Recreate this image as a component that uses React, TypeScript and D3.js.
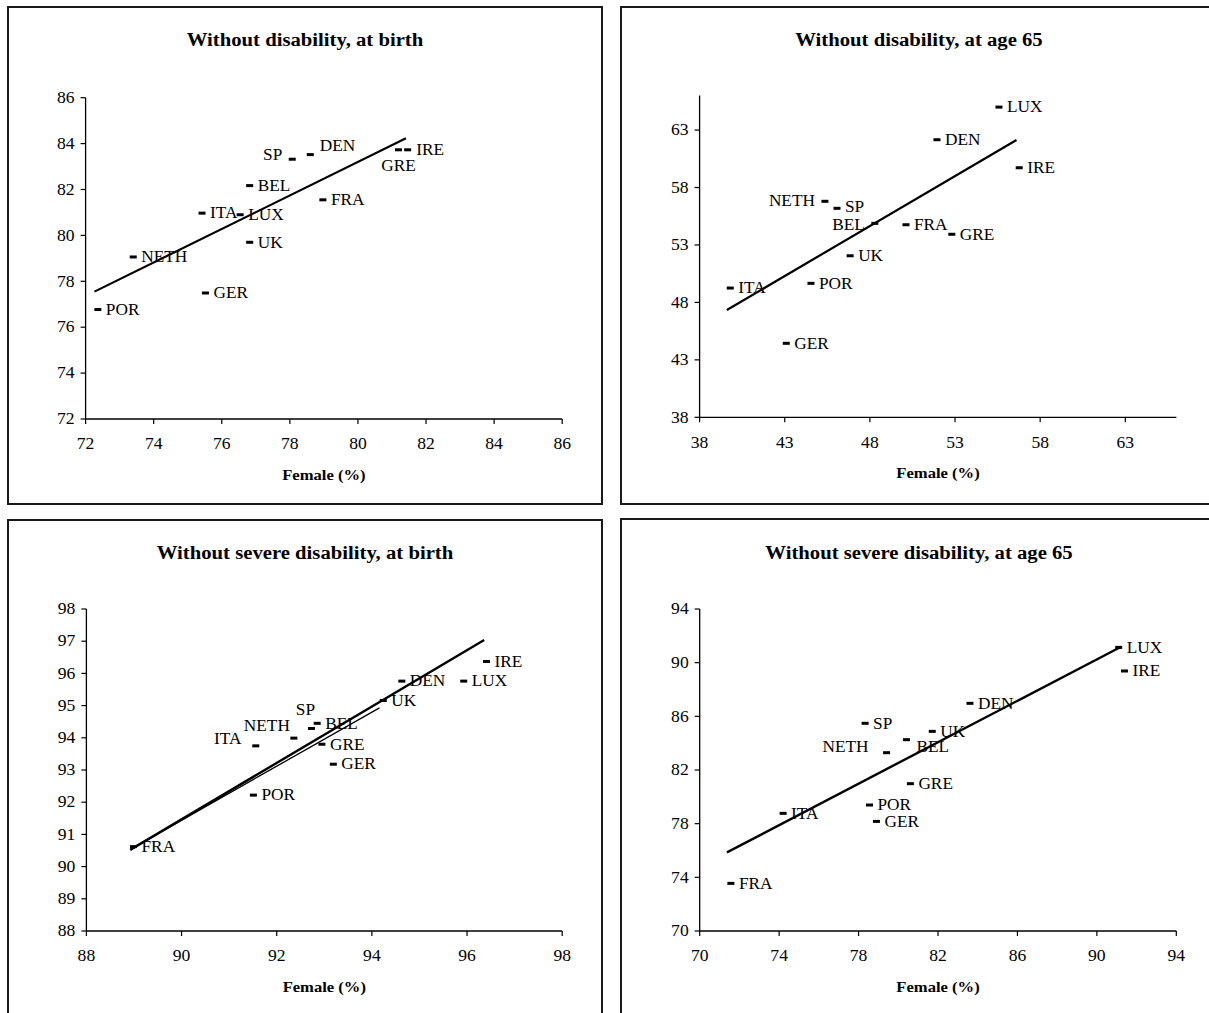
import React from "react";
import * as d3 from "d3";

const FONT = "'Liberation Serif', 'Times New Roman', serif";

// ---------- Panel 1: Without disability, at birth ----------
const p1Title = "Without disability, at birth";
const p1Countries = ["POR", "NETH", "GER", "ITA", "LUX", "BEL", "UK", "SP", "DEN", "FRA", "GRE", "IRE"];
const p1Female = [72.36, 73.4, 75.52, 75.42, 76.54, 76.82, 76.82, 78.07, 78.6, 78.97, 81.19, 81.46];
const p1Value = [76.77, 79.06, 77.49, 80.97, 80.9, 82.17, 79.7, 83.32, 83.52, 81.55, 83.73, 83.73];
const p1Domain = [72, 86];
const p1Ticks = [72, 74, 76, 78, 80, 82, 84, 86];
const p1Trends = [[72.26, 77.55, 81.41, 84.23]];

// ---------- Panel 2: Without disability, at age 65 ----------
const p2Title = "Without disability, at age 65";
const p2Countries = ["LUX", "DEN", "IRE", "NETH", "SP", "BEL", "FRA", "GRE", "UK", "POR", "ITA", "GER"];
const p2Female = [55.58, 51.94, 56.77, 45.36, 46.07, 48.29, 50.12, 52.81, 46.84, 44.54, 39.8, 43.09];
const p2Value = [65.0, 62.16, 59.72, 56.8, 56.19, 54.88, 54.76, 53.93, 52.06, 49.66, 49.25, 44.44];
const p2Domain = [38, 66];
const p2Ticks = [38, 43, 48, 53, 58, 63];
const p2Trends = [[39.6, 47.34, 56.61, 62.13]];

// ---------- Panel 3: Without severe disability, at birth ----------
const p3Title = "Without severe disability, at birth";
const p3Countries = ["IRE", "DEN", "LUX", "UK", "SP", "BEL", "NETH", "ITA", "GRE", "GER", "POR", "FRA"];
const p3Female = [96.41, 94.63, 95.93, 94.24, 92.73, 92.85, 92.36, 91.56, 92.95, 93.19, 91.51, 88.99];
const p3Value = [96.37, 95.76, 95.76, 95.16, 94.29, 94.45, 93.99, 93.75, 93.8, 93.18, 92.22, 90.62];
const p3Domain = [88, 98];
const p3Ticks = [88, 89, 90, 91, 92, 93, 94, 95, 96, 97, 98];
const p3XTicks = [88, 90, 92, 94, 96, 98];
const p3Trends = [
  [88.92, 90.52, 96.36, 97.04],
  [88.95, 90.56, 94.16, 94.93],
];

// ---------- Panel 4: Without severe disability, at age 65 ----------
const p4Title = "Without severe disability, at age 65";
const p4Countries = ["LUX", "IRE", "DEN", "SP", "UK", "BEL", "NETH", "GRE", "POR", "GER", "ITA", "FRA"];
const p4Female = [91.1, 91.39, 83.61, 78.33, 81.71, 80.41, 79.41, 80.61, 78.55, 78.9, 74.2, 71.57];
const p4Value = [91.14, 89.38, 86.97, 85.48, 84.88, 84.26, 83.29, 80.98, 79.39, 78.17, 78.77, 73.55];
const p4Domain = [70, 94];
const p4Ticks = [70, 74, 78, 82, 86, 90, 94];
const p4Trends = [[71.37, 75.86, 91.22, 91.19]];

const xLabel = "Female (%)";

// ---------- layout (kept apart from data) ----------
type Place = { a: "start" | "end" | "middle"; dx: number; dy: number };
const R: Place = { a: "start", dx: 8, dy: 0 };

const layouts = [
  {
    box: [8, 7, 602, 504], xr: [85.6, 562.2], yr: [419, 97.7], titleY: 46, tickY: 448, labelY: 480,
    place: {
      SP: { a: "end", dx: -10, dy: -4 },
      DEN: { a: "start", dx: 9.5, dy: -9 },
      GRE: { a: "middle", dx: 0, dy: 16 },
      IRE: { a: "start", dx: 8.6, dy: 0 },
    } as Record<string, Place>,
    lineWidths: [2.2],
  },
  {
    box: [621, 7, 1217, 504], xr: [699.6, 1176.4], yr: [417.3, 95.6], titleY: 46, tickY: 447, labelY: 478,
    place: {
      NETH: { a: "end", dx: -10, dy: -1 },
      SP: { a: "start", dx: 8, dy: -2 },
      BEL: { a: "end", dx: -10, dy: 1.5 },
    } as Record<string, Place>,
    lineWidths: [2.2],
  },
  {
    box: [8, 520, 602, 1025], xr: [86.4, 562.2], yr: [931, 609], titleY: 559, tickY: 960, labelY: 992,
    place: {
      SP: { a: "middle", dx: -6, dy: -19 },
      NETH: { a: "middle", dx: -27, dy: -12 },
      ITA: { a: "middle", dx: -28, dy: -7 },
    } as Record<string, Place>,
    lineWidths: [2.4, 1.3],
  },
  {
    box: [621, 519, 1217, 1025], xr: [699.7, 1176.3], yr: [931, 609], titleY: 559, tickY: 960, labelY: 992,
    place: {
      BEL: { a: "start", dx: 10, dy: 7 },
      NETH: { a: "end", dx: -18, dy: -6 },
    } as Record<string, Place>,
    lineWidths: [2.4],
  },
];

const panels = [
  { title: p1Title, countries: p1Countries, xs: p1Female, ys: p1Value, domain: p1Domain, yTicks: p1Ticks, xTicks: p1Ticks, trends: p1Trends },
  { title: p2Title, countries: p2Countries, xs: p2Female, ys: p2Value, domain: p2Domain, yTicks: p2Ticks, xTicks: p2Ticks, trends: p2Trends },
  { title: p3Title, countries: p3Countries, xs: p3Female, ys: p3Value, domain: p3Domain, yTicks: p3Ticks, xTicks: p3XTicks, trends: p3Trends },
  { title: p4Title, countries: p4Countries, xs: p4Female, ys: p4Value, domain: p4Domain, yTicks: p4Ticks, xTicks: p4Ticks, trends: p4Trends },
];

function T(props: {
  x: number; y: number; anchor?: string; size: number; sx: number; weight?: string | number; children: React.ReactNode; baseline?: string;
}) {
  const { x, y, anchor = "start", size, sx, weight = "normal", children, baseline } = props;
  return (
    <text
      transform={`translate(${x},${y}) scale(${sx},1)`}
      textAnchor={anchor}
      fontSize={size}
      fontWeight={weight}
      fontFamily={FONT}
      dominantBaseline={baseline}
      fill="#000"
    >
      {children}
    </text>
  );
}

function Panel({ data, lay }: { data: (typeof panels)[number]; lay: (typeof layouts)[number] }) {
  const [bx0, by0, bx1, by1] = lay.box;
  const x = d3.scaleLinear().domain(data.domain).range(lay.xr);
  const y = d3.scaleLinear().domain(data.domain).range(lay.yr);
  const x0 = x(data.domain[0]);
  const y0 = y(data.domain[0]);
  const line = d3.line<[number, number]>().x((d) => x(d[0])).y((d) => y(d[1]));
  return (
    <g>
      <rect x={bx0} y={by0} width={bx1 - bx0} height={by1 - by0} fill="#fff" stroke="#1a1a1a" strokeWidth={2} />
      <T x={(bx0 + bx1) / 2} y={lay.titleY} anchor="middle" size={19} sx={1.09} weight="bold">
        {data.title}
      </T>
      {/* axes */}
      <line x1={x0} x2={x0} y1={y0} y2={y(data.domain[1])} stroke="#000" strokeWidth={1.3} />
      <line x1={x0} x2={x(data.domain[1])} y1={y0} y2={y0} stroke="#000" strokeWidth={1.3} />
      {data.yTicks.map((t) => (
        <g key={"y" + t}>
          <line x1={x0 - 5} x2={x0} y1={y(t)} y2={y(t)} stroke="#000" strokeWidth={1.2} />
          <T x={x0 - 11} y={y(t)} anchor="end" size={16} sx={1.1} baseline="central">
            {t}
          </T>
        </g>
      ))}
      {data.xTicks.map((t) => (
        <g key={"x" + t}>
          <line x1={x(t)} x2={x(t)} y1={y0} y2={y0 + 5} stroke="#000" strokeWidth={1.2} />
          <T x={x(t)} y={lay.tickY + 1} anchor="middle" size={16} sx={1.1}>
            {t}
          </T>
        </g>
      ))}
      <T x={(lay.xr[0] + lay.xr[1]) / 2} y={lay.labelY} anchor="middle" size={15.5} sx={1.07} weight="bold">
        {xLabel}
      </T>
      {/* points */}
      {data.countries.map((c, i) => {
        const px = x(data.xs[i]);
        const py = y(data.ys[i]);
        const p = lay.place[c] || R;
        return (
          <g key={c}>
            <rect x={px - 3.5} y={py - 1.5} width={7} height={3} fill="#000" />
            <T x={px + p.dx} y={py + p.dy} anchor={p.a} size={16} sx={1.08} baseline="central">
              {c}
            </T>
          </g>
        );
      })}
      {/* trend lines */}
      {data.trends.map((t, i) => (
        <path
          key={"t" + i}
          d={line([[t[0], t[1]], [t[2], t[3]]]) || ""}
          fill="none"
          stroke="#000"
          strokeWidth={lay.lineWidths[i] ?? 2}
        />
      ))}
    </g>
  );
}

export default function App() {
  return (
    <svg
      width={1209}
      height={1013}
      style={{ position: "absolute", left: 0, top: 0, background: "#fff" }}
    >
      <rect x={0} y={0} width={1209} height={1013} fill="#fff" />
      {panels.map((p, i) => (
        <Panel key={i} data={p} lay={layouts[i]} />
      ))}
    </svg>
  );
}
